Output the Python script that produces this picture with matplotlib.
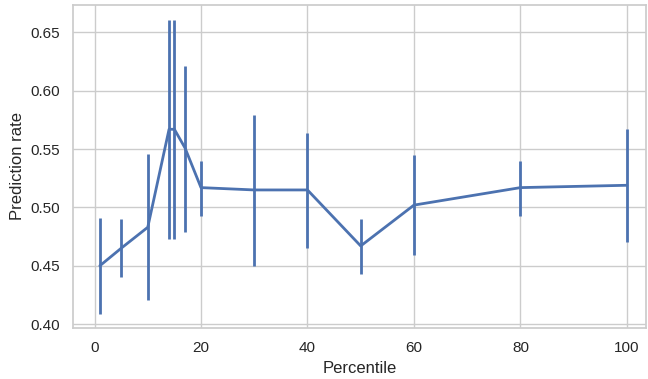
import matplotlib
matplotlib.use('Agg')
import matplotlib.pyplot as plt
import seaborn as sns
import numpy as np

percentile = [1, 5, 10, 14, 15, 17, 20, 30, 40, 50, 60, 80, 100]
rate_mean = [0.450, 0.465, 0.483, 0.567, 0.567, 0.551, 0.517, 0.515, 0.515, 0.467, 0.502, 0.517, 0.519]
rate_low = [0.409, 0.440, 0.421, 0.473, 0.473, 0.479, 0.493, 0.450, 0.465, 0.443, 0.459, 0.493, 0.470]
rate_high = [0.491, 0.490, 0.546, 0.661, 0.661, 0.621, 0.540, 0.579, 0.564, 0.490, 0.545, 0.540, 0.567]

sns.set_theme(style="whitegrid")
plt.rcParams['font.family'] = ['Liberation Sans', 'DejaVu Sans']

fig = plt.figure(figsize=(6.48, 3.79), dpi=100)
ax = fig.add_axes([0.113, 0.135, 0.884, 0.852])

color = "#4c72b0"
mean = np.array(rate_mean)
yerr = [mean - np.array(rate_low), np.array(rate_high) - mean]
ax.errorbar(percentile, rate_mean, yerr=yerr, color=color, linewidth=2,
            elinewidth=2, capsize=0)

ax.set_xlim(-4.0, 103.6)
ax.set_ylim(0.3968, 0.6736)
ax.set_xticks([0, 20, 40, 60, 80, 100])
ax.set_yticks([0.40, 0.45, 0.50, 0.55, 0.60, 0.65])
ax.set_xlabel("Percentile")
ax.set_ylabel("Prediction rate")

fig.savefig("out.png", dpi=100)
